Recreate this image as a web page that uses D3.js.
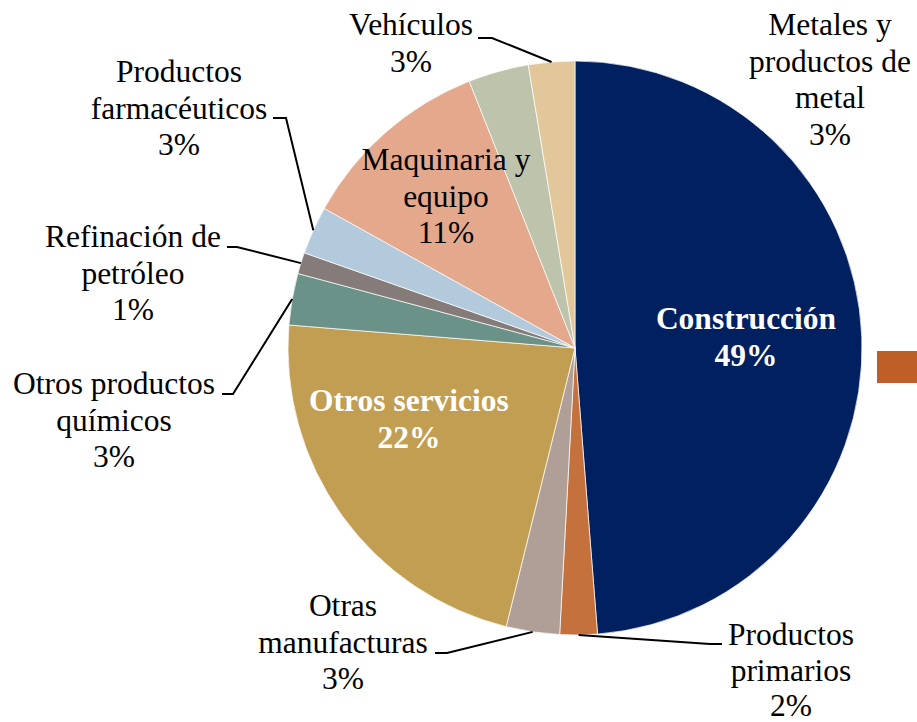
<!DOCTYPE html>
<html>

<head>
    <meta charset="utf-8" />
    <title>Pie</title>
    <script src="https://d3js.org/d3.v7.min.js"></script>
    <style>
        body { margin: 0; background: #fff; }
    </style>
</head>

<body>
    <script type="text/javascript">
        // slices clockwise from 12 o'clock
        var categories = ['Construcción', 'Productos primarios', 'Otras manufacturas', 'Otros servicios',
            'Otros productos químicos', 'Refinación de petróleo', 'Productos farmacéuticos',
            'Maquinaria y equipo', 'Metales y productos de metal', 'Vehículos'];
        var values = [48.7, 2.1, 3.0, 22.4, 2.9, 1.2, 2.7, 10.9, 3.4, 2.6];
        var colors = ['#002060', '#c5713d', '#b09f96', '#c19e52', '#6b9289', '#857b79',
            '#b3cadc', '#e4a88d', '#bec4ab', '#e2c79a'];
        var labelLines = [
            ['Construcción'], ['Productos', 'primarios'], ['Otras', 'manufacturas'], ['Otros servicios'],
            ['Otros productos', 'químicos'], ['Refinación de', 'petróleo'], ['Productos', 'farmacéuticos'],
            ['Maquinaria y', 'equipo'], ['Metales y', 'productos de', 'metal'], ['Vehículos']
        ];

        var width = 917, height = 722;
        var cx = 575, cy = 348, radius = 287;
        var lineH = 36.7;
        var fontFamily = "'Times New Roman', Times, 'Liberation Serif', Tinos, 'Noto Serif', 'DejaVu Serif', serif";

        // label anchor (x centre, first baseline), bold/white for inner ones, leader elbow
        var layout = {
            'Construcción': { x: 746, y: 329, inside: true },
            'Productos primarios': { x: 791, y: 645, lh: 35.5, leader: [[722, 644], [710, 644]] },
            'Otras manufacturas': { x: 343, y: 616, leader: [[435, 653], [447, 653]] },
            'Otros servicios': { x: 409, y: 411, inside: true },
            'Otros productos químicos': { x: 114, y: 394, leader: [[222, 394], [233, 394]] },
            'Refinación de petróleo': { x: 133, y: 247, leader: [[227, 247], [237, 247]] },
            'Productos farmacéuticos': { x: 179, y: 82, leader: [[273, 118], [286, 118]] },
            'Maquinaria y equipo': { x: 446, y: 170 },
            'Metales y productos de metal': { x: 830, y: 35 },
            'Vehículos': { x: 411, y: 35, leader: [[478, 38], [492, 38]] }
        };

        var data = categories.map(function (c, i) {
            return { name: c, value: values[i], color: colors[i], lines: labelLines[i] };
        });
        var total = d3.sum(values);
        var pct = d3.format('.0%');

        var svg = d3.select('body')
            .append('svg')
            .attr('width', width)
            .attr('height', height);

        var pie = d3.pie()
            .value(function (d) { return d.value; })
            .sort(null);

        var arc = d3.arc()
            .innerRadius(0)
            .outerRadius(radius);

        var arcs = pie(data);

        var g = svg.append('g')
            .attr('transform', 'translate(' + cx + ',' + cy + ')');

        g.selectAll('path')
            .data(arcs)
            .enter()
            .append('path')
            .attr('d', arc)
            .attr('fill', function (d) { return d.data.color; })
            .attr('stroke', '#ffffff')
            .attr('stroke-width', 0.7);

        // leader lines
        arcs.forEach(function (d) {
            var L = layout[d.data.name];
            if (!L.leader) return;
            var a = (d.startAngle + d.endAngle) / 2;
            var end = [cx + Math.sin(a) * radius, cy - Math.cos(a) * radius];
            var pts = L.leader.concat([end]);
            svg.append('path')
                .attr('d', d3.line()(pts))
                .attr('fill', 'none')
                .attr('stroke', '#000')
                .attr('stroke-width', 2);
        });

        // labels
        arcs.forEach(function (d) {
            var L = layout[d.data.name];
            var lh = L.lh || lineH;
            var lines = d.data.lines.concat([pct(d.data.value / total)]);
            var t = svg.append('text')
                .attr('text-anchor', 'middle')
                .attr('font-family', fontFamily)
                .attr('font-size', '31.5px')
                .attr('fill', L.inside ? '#ffffff' : '#000000')
                .attr('font-weight', L.inside ? 'bold' : 'normal');
            lines.forEach(function (s, i) {
                t.append('tspan')
                    .attr('x', L.x)
                    .attr('y', L.y + i * lh)
                    .text(s);
            });
        });

        // legend swatch, cut by the right edge
        svg.append('rect')
            .attr('x', 877)
            .attr('y', 351)
            .attr('width', 50)
            .attr('height', 32)
            .attr('fill', '#be5f28');
    </script>

</body>

</html>
